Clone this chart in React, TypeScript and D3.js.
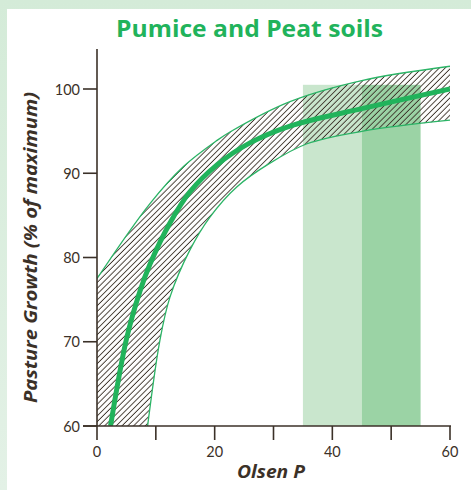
import React from "react";
import * as d3 from "d3";

const titleText = "Pumice and Peat soils";
const xLabel = "Olsen P";
const yLabel = "Pasture Growth (% of maximum)";

const xTicks = [0, 10, 20, 30, 40, 50, 60];
const xTickLabels = [0, 20, 40, 60];
const yTicks = [60, 70, 80, 90, 100];

// Optimum ranges (Olsen P) shaded in the chart
const lightBand = [35, 45];
const darkBand = [45, 55];
const bandTop = 100.5;

// Central response curve (Olsen P, % of maximum)
const centralX = [2.3, 5, 7.3, 9, 12.4, 15.8, 20.4, 26, 32.8, 45.2, 60];
const centralY = [60, 70.3, 76.0, 79.2, 84.1, 87.8, 91.0, 93.6, 95.6, 97.7, 100];

// Upper confidence curve
const upperX = [0, 9, 14.7, 20.4, 22.6, 32.8, 45, 60];
const upperY = [77.5, 86.4, 90.8, 93.9, 94.9, 98.5, 101, 102.7];

// Lower confidence curve
const lowerX = [8.6, 10.7, 12.4, 15.8, 19.2, 23.8, 29.4, 35.7, 45.2, 60];
const lowerY = [60, 70.2, 75.3, 80.9, 84.8, 88.4, 91.2, 93.5, 95, 96.3];

const W = 471;
const H = 490;
const ink = "#3b3128";
const green = "#21b35b";

export default function App() {
  const x = d3.scaleLinear().domain([0, 60]).range([97, 450]);
  const y = d3.scaleLinear().domain([60, 100]).range([426, 89]);
  const yAxisTop = 49;

  const pts = (xs: number[], ys: number[]) => xs.map((v, i) => [v, ys[i]] as [number, number]);
  const central = pts(centralX, centralY);
  const upper = pts(upperX, upperY);
  const lower = pts(lowerX, lowerY);

  const line = d3
    .line<[number, number]>()
    .x((d) => x(d[0]))
    .y((d) => y(d[1]))
    .curve(d3.curveCatmullRom.alpha(0.5));

  const upperD = line(upper) as string;
  const lowerD = line(lower) as string;
  const lowerRevD = line([...lower].reverse()) as string;
  const areaD =
    upperD +
    "L" + lowerRevD.slice(1) +
    `L${x(0)},${y(60)}Z`;

  const plotW = x(60) - x(0);
  const plotH = y(60) - yAxisTop;

  return (
    <svg
      width={W}
      height={H}
      style={{ position: "absolute", left: 0, top: 0 }}
      fontFamily="Lato, 'Open Sans', sans-serif"
    >
      <defs>
        <linearGradient id="bg" x1="0" y1="0" x2="0" y2="1">
          <stop offset="0" stopColor="#d4ebd8" />
          <stop offset="1" stopColor="#e3f1e6" />
        </linearGradient>
        <pattern
          id="hatch"
          patternUnits="userSpaceOnUse"
          width={4.1}
          height={10}
          patternTransform="rotate(45)"
        >
          <line x1={2} y1={0} x2={2} y2={10} stroke={ink} strokeWidth={0.9} />
        </pattern>
        <clipPath id="plot">
          <rect x={x(0)} y={yAxisTop} width={plotW} height={plotH} />
        </clipPath>
      </defs>
      <rect width={W} height={H} fill="url(#bg)" />
      <rect x={7} y={9} width={W - 7} height={H - 9} fill="#ffffff" />

      <text
        x={249.5}
        y={37}
        textAnchor="middle"
        fontSize={23}
        fontWeight={700}
        fontFamily="'Open Sans', Lato, sans-serif"
        fill={green}
        textLength={267}
        lengthAdjust="spacingAndGlyphs"
      >
        {titleText}
      </text>

      {/* optimum bands */}
      <rect
        x={x(lightBand[0])}
        y={y(bandTop)}
        width={x(lightBand[1]) - x(lightBand[0])}
        height={y(60) - y(bandTop)}
        fill="#c9e6cd"
      />
      <rect
        x={x(darkBand[0])}
        y={y(bandTop)}
        width={x(darkBand[1]) - x(darkBand[0])}
        height={y(60) - y(bandTop)}
        fill="#9bd3a5"
      />

      <g clipPath="url(#plot)">
        <path d={areaD} fill="url(#hatch)" />
        <path d={upperD} fill="none" stroke="#2bb466" strokeWidth={1.3} />
        <path d={lowerD} fill="none" stroke="#2bb466" strokeWidth={1.3} />
        <path d={line(central) as string} fill="none" stroke={green} strokeWidth={5} />
      </g>

      {/* axes */}
      <line x1={x(0)} y1={yAxisTop} x2={x(0)} y2={y(60)} stroke={ink} strokeWidth={1.6} />
      <line x1={x(0) - 14} y1={y(60)} x2={x(60) + 1} y2={y(60)} stroke={ink} strokeWidth={1.6} />
      {xTicks.map((t) => (
        <line key={"xt" + t} x1={x(t)} x2={x(t)} y1={y(60)} y2={y(60) + 14} stroke={ink} strokeWidth={1.6} />
      ))}
      {xTickLabels.map((t) => (
        <text key={"xl" + t} x={x(t)} y={457} textAnchor="middle" fontSize={14.5} fill={ink}>
          {t}
        </text>
      ))}
      {yTicks.map((t) => (
        <g key={"yt" + t}>
          <line x1={x(0) - 14} x2={x(0)} y1={y(t)} y2={y(t)} stroke={ink} strokeWidth={1.6} />
          <text x={80} y={y(t) + 5.5} textAnchor="end" fontSize={14.5} fill={ink}>
            {t}
          </text>
        </g>
      ))}

      <text
        x={271}
        y={478}
        textAnchor="middle"
        fontSize={18}
        fontWeight={700}
        fontStyle="italic"
        fontFamily="'Open Sans', Lato, sans-serif"
        fill={ink}
        textLength={68}
        lengthAdjust="spacingAndGlyphs"
      >
        {xLabel}
      </text>
      <text
        transform="translate(37,247.5) rotate(-90)"
        textAnchor="middle"
        fontSize={18}
        fontWeight={700}
        fontStyle="italic"
        fontFamily="'Open Sans', Lato, sans-serif"
        fill={ink}
        textLength={311}
        lengthAdjust="spacingAndGlyphs"
      >
        {yLabel}
      </text>
    </svg>
  );
}
